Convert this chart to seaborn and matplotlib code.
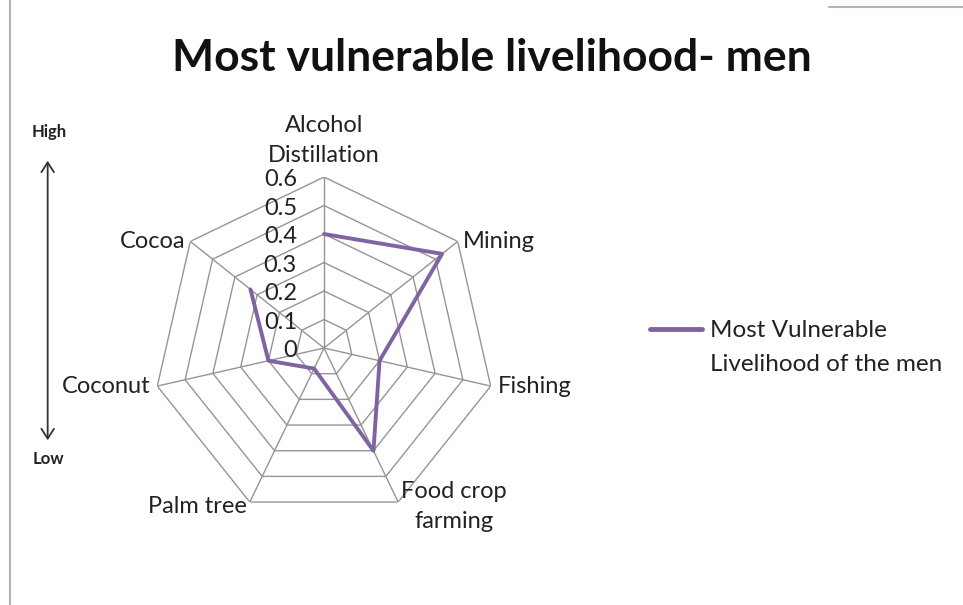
import numpy as np
import pandas as pd
import matplotlib
matplotlib.use("Agg")
import matplotlib.pyplot as plt
import seaborn as sns
from matplotlib.lines import Line2D

categories = ["Alcohol\nDistillation", "Mining", "Fishing", "Food crop\nfarming",
              "Palm tree", "Coconut", "Cocoa"]
values = [0.40, 0.53, 0.20, 0.40, 0.08, 0.20, 0.33]
levels = [0.0, 0.1, 0.2, 0.3, 0.4, 0.5, 0.6]
level_labels = ["0", "0.1", "0.2", "0.3", "0.4", "0.5", "0.6"]
series_name = "Most Vulnerable\nLivelihood of the men"
title = "Most vulnerable livelihood- men"

sns.set_style("white")
plt.rcParams['font.family'] = ['Lato', 'DejaVu Sans']

PURPLE = "#8064A2"
GRID = "#959595"
TXT = "#222222"
FS = 17

fig = plt.figure(figsize=(9.63, 6.05), dpi=100)
ax = fig.add_axes([0.1589, 0.1421, 0.3551, 0.5653], projection="polar")
ax.set_theta_zero_location("N")
ax.set_theta_direction(-1)

n = len(categories)
angles = np.arange(n) * 2 * np.pi / n

# polygon grid
for lv in levels[1:]:
    ax.plot(np.append(angles, angles[0]), [lv] * (n + 1), color=GRID, lw=1.0, zorder=1)
for a in angles:
    ax.plot([a, a], [0, levels[-1]], color=GRID, lw=1.0, zorder=1)

df = pd.DataFrame({"angle": np.append(angles, angles[0]),
                   "value": values + [values[0]],
                   "series": series_name})
sns.lineplot(data=df, x="angle", y="value", ax=ax, sort=False, color=PURPLE,
             linewidth=2.8, legend=False, zorder=3)

ax.set_ylim(0, levels[-1])
ax.grid(False)
ax.spines["polar"].set_visible(False)
ax.set_xticks([])
ax.set_yticks([])
ax.set_xlabel("")
ax.set_ylabel("")

# level labels
for lv, lab in zip(levels, level_labels):
    ax.annotate(lab, xy=(0, lv), xytext=(-19.5, -2), textcoords="offset points",
                ha="right", va="center", fontsize=FS, color=TXT)

# category labels
for a, cat in zip(angles, categories):
    s, c = np.sin(a), np.cos(a)
    if abs(s) < 0.1:
        ha, va, dy = "center", "bottom", 8
    elif s > 0:
        ha, va, dy = "left", "center", 0
    else:
        ha, va, dy = "right", "center", 0
    if c < -0.8:
        dy = -3
    ax.annotate(cat, xy=(a, levels[-1]), xytext=(5 * s, dy), textcoords="offset points",
                ha=ha, va=va, fontsize=FS, color=TXT, linespacing=1.55,
                multialignment="center")

fig.text(0.5104, 0.904, title, ha="center", va="center", fontsize=32,
         fontweight="bold", color="#111111")

# legend (handle aligned with the first line of the label)
first, second = series_name.split("\n")
h1 = Line2D([], [], color=PURPLE, lw=3.5)
h2 = Line2D([], [], color="none", lw=0)
leg = fig.legend([h1, h2], [first, second], loc="upper left",
                 bbox_to_anchor=(650 / 963, 1 - 320 / 605),
                 frameon=False, fontsize=17.5, handlelength=2.15, handletextpad=0.3,
                 labelspacing=0.55, borderpad=0, borderaxespad=0)
for t in leg.get_texts():
    t.set_color(TXT)

# High / Low arrow
fig.add_artist(matplotlib.patches.FancyArrowPatch((0.0495, 1 - 443 / 605), (0.0495, 1 - 158 / 605),
               transform=fig.transFigure, arrowstyle="<->,head_length=7,head_width=4.5",
               color="#333333", lw=1.3))
fig.text(0.051, 1 - 132 / 605, "High", ha="center", va="center", fontsize=12, fontweight="bold",
         color=TXT)
fig.text(0.050, 1 - 459 / 605, "Low", ha="center", va="center", fontsize=12, fontweight="bold",
         color=TXT)

# frame fragments
fig.add_artist(Line2D([9.5 / 963, 9.5 / 963], [0, 1], transform=fig.transFigure, color="#b3b3b3", lw=1.5))
fig.add_artist(Line2D([829 / 963, 1], [1 - 6.5 / 605] * 2, transform=fig.transFigure, color="#b3b3b3", lw=1.5))

fig.savefig("out.png", dpi=100)
